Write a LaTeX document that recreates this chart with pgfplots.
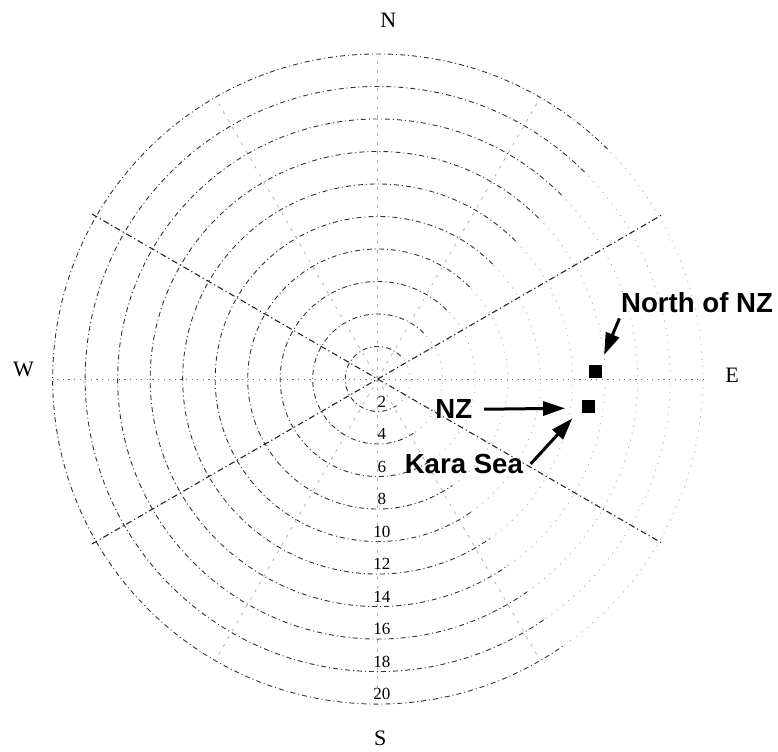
\documentclass[border=0pt]{standalone}
\usepackage{fontspec}
\setmainfont{Liberation Serif}
\newfontfamily\arial{Liberation Sans}
\usepackage{pgfplots}
\pgfplotsset{compat=1.18}
\usetikzlibrary{arrows.meta}
\tikzset{
  circ/.style={black!80, line width=0.45pt, dash pattern=on 2.5pt off 1.5pt on 0.5pt off 1.5pt},
  fcirc/.style={black!30, line width=0.4pt, dash pattern=on 0.6pt off 3pt},
  spoke/.style={black!55, line width=0.4pt, dash pattern=on 0.6pt off 2.2pt},
  fspoke/.style={black!30, line width=0.4pt, dash pattern=on 1.5pt off 3pt},
  dspoke/.style={black!85, line width=0.55pt, dash pattern=on 3pt off 1.5pt on 0.6pt off 1.5pt},
  ann/.style={-{Triangle[length=11pt,width=7pt]}, line width=1.5pt, black},
  lab/.style={font=\arial\bfseries\fontsize{13.8}{16}\selectfont, inner sep=0pt},
  cmp/.style={font=\fontsize{11}{13}\selectfont, inner sep=0pt},
  tl/.style={font=\fontsize{8.5}{10}\selectfont, inner sep=0pt},
}
\begin{document}
\begin{tikzpicture}
\begin{axis}[
  scale only axis, width=388.94pt, height=375.46pt,
  xmin=-23.24, xmax=24.63, ymin=-22.89, ymax=23.32,
  hide axis, clip=false,
]
\coordinate (SW) at (rel axis cs:0,0);
\coordinate (NE) at (rel axis cs:1,1);
% grid circles: clear arcs on the west side, faint on the east side
\pgfplotsinvokeforeach{2,4,...,20}{
  \draw[circ] (axis cs:0,0) ++(45:{#1*8.125pt}) arc[start angle=45, end angle=305, radius={#1*8.125pt}];
  \draw[fcirc] (axis cs:0,0) ++(-55:{#1*8.125pt}) arc[start angle=-55, end angle=45, radius={#1*8.125pt}];
}
% spokes
\draw[spoke] (axis cs:0,0) -- (axis cs:20,0);
\draw[spoke] (axis cs:0,0) -- (axis cs:-20,0);
\draw[fspoke] (axis cs:0,0) -- (axis cs:10,17.32);
\draw[fspoke] (axis cs:0,0) -- (axis cs:0,20);
\draw[fspoke] (axis cs:0,0) -- (axis cs:-10,17.32);
\draw[fspoke] (axis cs:0,0) -- (axis cs:-10,-17.32);
\draw[fspoke] (axis cs:0,0) -- (axis cs:0,-20);
\draw[fspoke] (axis cs:0,0) -- (axis cs:10,-17.32);
% darker diagonal lines
\draw[dspoke] (axis cs:-17.58,-10.15) -- (axis cs:17.58,10.15);
\draw[dspoke] (axis cs:-17.58,10.15) -- (axis cs:17.58,-10.15);
% radius labels
\node[tl] at (axis cs:0.25,-1.4) {2};
\node[tl] at (axis cs:0.25,-3.4) {4};
\node[tl] at (axis cs:0.25,-5.4) {6};
\node[tl] at (axis cs:0.25,-7.4) {8};
\node[tl] at (axis cs:0.25,-9.4) {10};
\node[tl] at (axis cs:0.25,-11.4) {12};
\node[tl] at (axis cs:0.25,-13.4) {14};
\node[tl] at (axis cs:0.25,-15.4) {16};
\node[tl] at (axis cs:0.25,-17.4) {18};
\node[tl] at (axis cs:0.25,-19.4) {20};
% compass labels
\node[cmp] at (axis cs:0.65,22.1) {N};
\node[cmp] at (axis cs:0.15,-22.1) {S};
\node[cmp] at (axis cs:-21.8,0.6) {W};
\node[cmp] at (axis cs:21.8,0.25) {E};
% data
\addplot[only marks, mark=square*, mark size=3pt, black] coordinates {(13.39,0.49) (12.96,-1.70)};
% annotations
\draw[ann] (axis cs:14.87,3.73) -- (axis cs:13.93,1.48);
\draw[ann] (axis cs:6.54,-1.86) -- (axis cs:11.53,-1.80);
\draw[ann] (axis cs:9.41,-5.23) -- (axis cs:11.98,-2.42);
\node[lab] at (axis cs:19.65,4.72) {North of NZ};
\node[lab] at (axis cs:4.68,-1.85) {NZ};
\node[lab] at (axis cs:5.30,-5.23) {Kara Sea};
\end{axis}
\pgfresetboundingbox
\path (SW) rectangle (NE);
\end{tikzpicture}
\end{document}
